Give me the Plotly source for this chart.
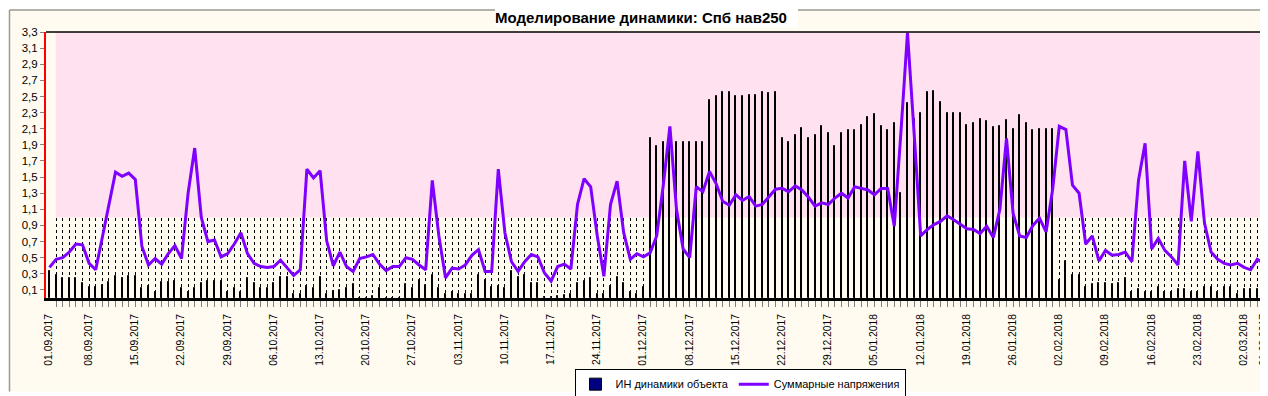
import plotly.graph_objects as go

# ---------------- data ----------------
ih_dynamics = [
    0.34, 0.28, 0.25, 0.25, 0.25, 0.18, 0.14, 0.14, 0.16, 0.20,
    0.27, 0.25, 0.27, 0.27, 0.12, 0.15, 0.08, 0.20, 0.20, 0.21,
    0.12, 0.08, 0.12, 0.18, 0.21, 0.21, 0.21, 0.08, 0.12, 0.08,
    0.25, 0.18, 0.12, 0.12, 0.18, 0.26, 0.26, 0.05, 0.05, 0.15,
    0.12, 0.26, 0.05, 0.09, 0.10, 0.12, 0.17, 0.00, 0.00, 0.03,
    0.12, 0.00, 0.00, 0.00, 0.17, 0.12, 0.22, 0.16, 0.28, 0.12,
    0.05, 0.08, 0.05, 0.05, 0.05, 0.28, 0.22, 0.14, 0.15, 0.12,
    0.34, 0.26, 0.29, 0.19, 0.19, 0.01, 0.01, 0.02, 0.04, 0.05,
    0.18, 0.21, 0.25, 0.05, 0.05, 0.15, 0.26, 0.19, 0.08, 0.05,
    0.14, 1.98, 1.89, 1.93, 1.93, 1.93, 1.93, 1.93, 1.93, 1.93,
    2.46, 2.50, 2.56, 2.56, 2.50, 2.50, 2.52, 2.52, 2.56, 2.54,
    2.56, 1.98, 1.93, 2.02, 2.11, 1.98, 2.02, 2.14, 2.05, 1.89,
    2.05, 2.08, 2.08, 2.15, 2.25, 2.28, 2.13, 2.08, 2.17, 1.30,
    2.42, 2.22, 2.29, 2.55, 2.57, 2.43, 2.29, 2.29, 2.29, 2.15,
    2.17, 2.22, 2.19, 2.12, 2.14, 2.21, 2.10, 2.27, 2.17, 2.09,
    2.10, 2.10, 2.10, 0.22, 0.46, 0.28, 0.28, 0.14, 0.17, 0.18,
    0.18, 0.17, 0.19, 0.25, 0.07, 0.11, 0.07, 0.08, 0.14, 0.07,
    0.08, 0.11, 0.11, 0.08, 0.08, 0.14, 0.14, 0.07, 0.14, 0.14,
    0.05, 0.11, 0.11, 0.11, 0.11, 0.02,
]

total_stress = [
    0.38, 0.48, 0.50, 0.57, 0.67, 0.66, 0.43, 0.35, 0.75, 1.15,
    1.56, 1.51, 1.55, 1.47, 0.64, 0.41, 0.49, 0.42, 0.55, 0.65,
    0.49, 1.30, 1.86, 1.00, 0.70, 0.72, 0.51, 0.55, 0.67, 0.81,
    0.55, 0.43, 0.39, 0.38, 0.39, 0.47, 0.38, 0.28, 0.35, 1.60,
    1.49, 1.58, 0.71, 0.40, 0.57, 0.39, 0.33, 0.49, 0.51, 0.54,
    0.42, 0.34, 0.39, 0.39, 0.50, 0.48, 0.41, 0.35, 1.46, 0.77,
    0.25, 0.37, 0.36, 0.41, 0.53, 0.60, 0.33, 0.33, 1.60, 0.81,
    0.45, 0.33, 0.45, 0.54, 0.51, 0.31, 0.21, 0.39, 0.42, 0.36,
    1.16, 1.48, 1.38, 0.77, 0.27, 1.16, 1.45, 0.81, 0.48, 0.55,
    0.51, 0.56, 0.77, 1.40, 2.13, 1.10, 0.61, 0.50, 1.38, 1.32,
    1.57, 1.42, 1.20, 1.15, 1.28, 1.21, 1.26, 1.14, 1.16, 1.26,
    1.35, 1.36, 1.32, 1.39, 1.34, 1.25, 1.14, 1.18, 1.16, 1.24,
    1.30, 1.24, 1.38, 1.36, 1.34, 1.28, 1.36, 1.36, 0.89, 2.05,
    3.29, 2.05, 0.77, 0.85, 0.91, 0.95, 1.02, 0.97, 0.91, 0.86,
    0.85, 0.80, 0.89, 0.75, 1.10, 1.98, 1.05, 0.77, 0.75, 0.90,
    0.99, 0.82, 1.35, 2.13, 2.09, 1.40, 1.30, 0.67, 0.77, 0.46,
    0.59, 0.53, 0.54, 0.57, 0.45, 1.46, 1.92, 0.61, 0.74, 0.59,
    0.51, 0.41, 1.70, 0.95, 1.82, 0.93, 0.57, 0.48, 0.43, 0.41,
    0.43, 0.38, 0.35, 0.48, 0.43, 0.56,
]

tick_labels = [
    "01.09.2017", "08.09.2017", "15.09.2017", "22.09.2017", "29.09.2017",
    "06.10.2017", "13.10.2017", "20.10.2017", "27.10.2017", "03.11.2017",
    "10.11.2017", "17.11.2017", "24.11.2017", "01.12.2017", "08.12.2017",
    "15.12.2017", "22.12.2017", "29.12.2017", "05.01.2018", "12.01.2018",
    "19.01.2018", "26.01.2018", "02.02.2018", "09.02.2018", "16.02.2018",
    "23.02.2018", "02.03.2018", "01.09.2017",
]
# slot (day index) of each labelled tick
tick_slots = [1] + [7 * k for k in range(1, 27)] + [185]

title_text = "Моделирование динамики: Спб нав250"
bar_name = "ИН динамики объекта"
line_name = "Суммарные напряжения"

# ---------------- styling ----------------
W, H = 1268, 396
ML, MR, MT, MB = 38, 4, 24, 99
PW, PH = W - ML - MR, H - MT - MB
CREAM = "#FFFBF0"
PINK = "#FFE1F0"
PURPLE = "#8000FF"
FONT = "Liberation Sans, Arial, sans-serif"


def px(xp):
    return (xp - ML) / PW


def py(yp):
    return (MT + PH - yp) / PH


n = len(ih_dynamics)
slots = list(range(n))
tickvals = list(range(1, n))
ticktext = [""] * len(tickvals)
for s, lab in zip(tick_slots, tick_labels):
    ticktext[s - 1] = lab

fig = go.Figure()
fig.add_trace(go.Bar(
    x=slots, y=ih_dynamics, name=bar_name, width=0.16,
    marker=dict(color="#000080", line=dict(color="#000000", width=1)),
))
fig.add_trace(go.Scatter(
    x=slots, y=total_stress, name=line_name, mode="lines",
    line=dict(color=PURPLE, width=3),
))

shapes = [
    # outer frame (cream panel with etched gray top/left edges)
    dict(type="rect", xref="paper", yref="paper", layer="below",
         x0=px(1.5), x1=px(1266), y0=py(393), y1=py(1.5),
         fillcolor=CREAM, line=dict(width=0)),
    dict(type="line", xref="paper", yref="paper", layer="below",
         x0=px(1.5), x1=px(1266), y0=py(1.5), y1=py(1.5),
         line=dict(color="#9A9A90", width=1.5)),
    dict(type="line", xref="paper", yref="paper", layer="below",
         x0=px(1.5), x1=px(1.5), y0=py(393), y1=py(1.5),
         line=dict(color="#9A9A90", width=1.5)),
    # title background
    dict(type="rect", xref="paper", yref="paper", layer="below",
         x0=px(487), x1=px(790), y0=py(19), y1=py(-2),
         fillcolor="#FFFFFF", line=dict(width=0)),
    # pink zone above 1.0
    dict(type="rect", xref="x", yref="y", layer="between",
         x0=0.95, x1=184.8, y0=1.0, y1=3.3,
         fillcolor=PINK, line=dict(width=0)),
    # top border of plot area
    dict(type="line", xref="paper", yref="paper", layer="above",
         x0=0, x1=1, y0=1, y1=1, line=dict(color="#000000", width=1.5)),
]

fig.update_layout(
    width=W, height=H,
    margin=dict(l=ML, r=MR, t=MT, b=MB),
    paper_bgcolor="#FFFFFF",
    plot_bgcolor=CREAM,
    separators=", ",
    font=dict(family=FONT, size=11, color="#000000"),
    title=dict(text="<b>" + title_text + "</b>", x=633 / W, xref="container",
               xanchor="center", y=1 - 10 / H, yanchor="middle",
               font=dict(family=FONT, size=15, color="#000000")),
    showlegend=True,
    legend=dict(orientation="h", x=px(732), xanchor="center", y=py(369.5), yanchor="top",
                bgcolor="#FFFFFF", bordercolor="#000000", borderwidth=1,
                font=dict(family=FONT, size=11), itemwidth=30,
                tracegroupgap=0),
    bargap=0,
    shapes=shapes,
)

fig.update_xaxes(
    range=[-0.53, 185.23], tickmode="array", tickvals=tickvals, ticktext=ticktext,
    tickangle=-90, ticks="outside", ticklen=6, tickcolor="#808080", tickwidth=1,
    tickfont=dict(family=FONT, size=10.3), ticklabeloverflow="allow",
    ticklabelshift=-7, ticklabelstandoff=3,
    showgrid=True, gridcolor="#000000", gridwidth=1, griddash="3px,3px",
    showline=True, linecolor="#000000", linewidth=3, zeroline=False,
)
fig.update_yaxes(
    range=[0, 3.3], tick0=0.1, dtick=0.2, tickformat=".1f",
    ticks="outside", ticklen=4, tickcolor="#808080",
    tickfont=dict(family=FONT, size=11.5),
    showgrid=False, zeroline=False,
    showline=True, linecolor="#FF0000", linewidth=2,
)

fig.write_html("out.html")
